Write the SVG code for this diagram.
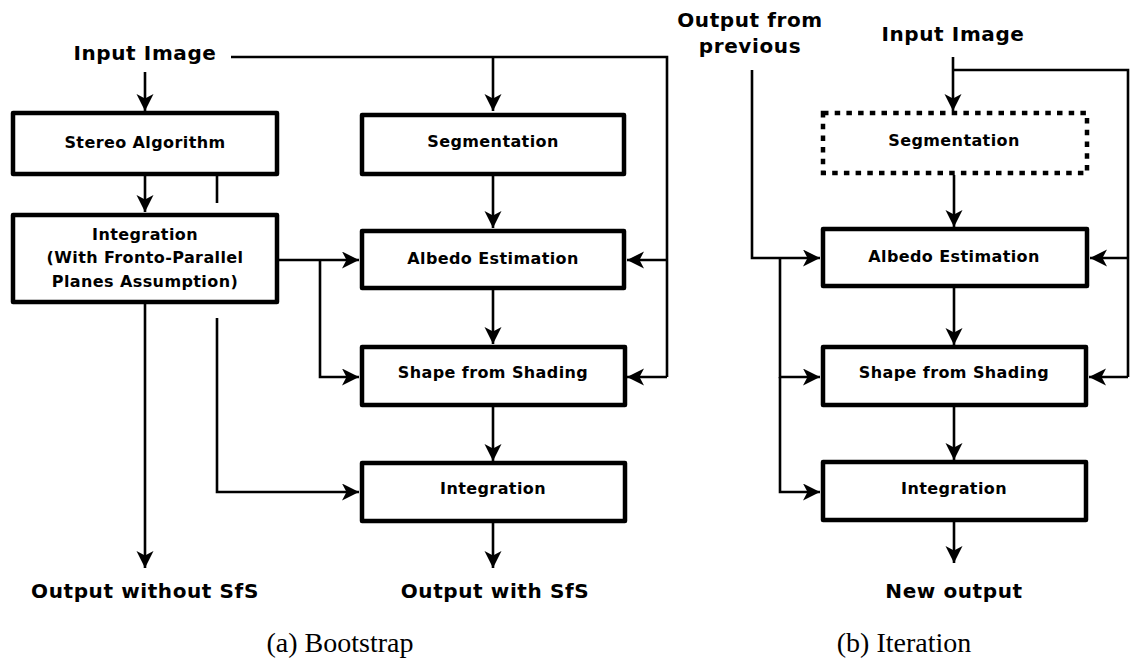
<svg xmlns="http://www.w3.org/2000/svg" width="1130" height="662" viewBox="0 0 1130 662">
<style>
.box{fill:#fff;stroke:#000;stroke-width:4.5;stroke-linejoin:round}
.dot{fill:#fff;stroke:#000;stroke-width:4.5;stroke-dasharray:5.5 6.2}
.t{font-family:"DejaVu Sans",sans-serif;font-weight:bold;font-size:16px;letter-spacing:0.4px;text-anchor:middle;fill:#000}
.lab{font-family:"DejaVu Sans",sans-serif;font-weight:bold;font-size:20px;letter-spacing:0.6px;text-anchor:middle;fill:#000}
.cap{font-family:"Liberation Serif","Times New Roman",serif;font-size:28px;text-anchor:middle;fill:#000}
.c{fill:none;stroke:#000;stroke-width:2.6}
.a{marker-end:url(#ah)}
</style>
<defs>
<marker id="ah" markerUnits="userSpaceOnUse" markerWidth="18" markerHeight="18" refX="17" refY="8.5" orient="auto">
<path d="M0,0 L17,8.5 L0,17 L4.5,8.5 z" fill="#000"/>
</marker>
</defs>
<g id="connectors">
<path class="c a" d="M145,72 V111"/>
<path class="c" d="M231,57 H667 V377"/>
<path class="c a" d="M493,57 V111"/>
<path class="c a" d="M493,176 V228"/>
<path class="c a" d="M145,176 V212"/>
<path class="c" d="M217,175 V203"/>
<path class="c a" d="M279,260 H359"/>
<path class="c a" d="M320,260 V377 H359"/>
<path class="c a" d="M667,260 H627"/>
<path class="c a" d="M667,377 H627"/>
<path class="c a" d="M493,290 V344"/>
<path class="c a" d="M493,407 V461"/>
<path class="c a" d="M493,523 V568"/>
<path class="c a" d="M145,304 V568"/>
<path class="c a" d="M217,318 V492 H359"/>
<path class="c a" d="M752,70 V258 H820"/>
<path class="c a" d="M780,258 V377 H820"/>
<path class="c a" d="M780,377 V492 H820"/>
<path class="c a" d="M953,57 V111"/>
<path class="c" d="M953,70 H1128 V377"/>
<path class="c a" d="M1128,258 H1090"/>
<path class="c a" d="M1128,377 H1089"/>
<path class="c a" d="M954,175 V227"/>
<path class="c a" d="M954,288 V345"/>
<path class="c a" d="M954,407 V460"/>
<path class="c a" d="M954,522 V563"/>
</g>
<g id="label-input-a"><text class="lab" x="145" y="60">Input Image</text></g>
<g id="stereo"><rect class="box" x="13" y="113" width="264" height="61"/><text class="t" x="145" y="148">Stereo Algorithm</text></g>
<g id="integration1"><rect class="box" x="13" y="215" width="264" height="87"/>
<text class="t" x="145" y="240">Integration</text>
<text class="t" x="145" y="263">(With Fronto-Parallel</text>
<text class="t" x="145" y="287">Planes Assumption)</text></g>
<g id="segmentation-a"><rect class="box" x="362" y="115" width="262" height="59"/><text class="t" x="493" y="147">Segmentation</text></g>
<g id="albedo-a"><rect class="box" x="362" y="231" width="262" height="57"/><text class="t" x="493" y="264">Albedo Estimation</text></g>
<g id="sfs-a"><rect class="box" x="362" y="347" width="263" height="58"/><text class="t" x="493" y="378">Shape from Shading</text></g>
<g id="integration-a"><rect class="box" x="362" y="463" width="263" height="58"/><text class="t" x="493" y="494">Integration</text></g>
<g id="out-without"><text class="lab" x="145" y="598">Output without SfS</text></g>
<g id="out-with"><text class="lab" x="495" y="598">Output with SfS</text></g>
<g id="label-prev"><text class="lab" x="750" y="27">Output from</text><text class="lab" x="750" y="53">previous</text></g>
<g id="label-input-b"><text class="lab" x="953" y="41">Input Image</text></g>
<g id="segmentation-b"><rect class="dot" x="823" y="113" width="264" height="60"/><text class="t" x="954" y="146">Segmentation</text></g>
<g id="albedo-b"><rect class="box" x="823" y="229" width="264" height="57"/><text class="t" x="954" y="262">Albedo Estimation</text></g>
<g id="sfs-b"><rect class="box" x="823" y="347" width="263" height="58"/><text class="t" x="954" y="378">Shape from Shading</text></g>
<g id="integration-b"><rect class="box" x="823" y="462" width="263" height="58"/><text class="t" x="954" y="494">Integration</text></g>
<g id="new-output"><text class="lab" x="954" y="598">New output</text></g>
<g id="captions"><text class="cap" x="340" y="652">(a) Bootstrap</text><text class="cap" x="904" y="652">(b) Iteration</text></g>
</svg>
